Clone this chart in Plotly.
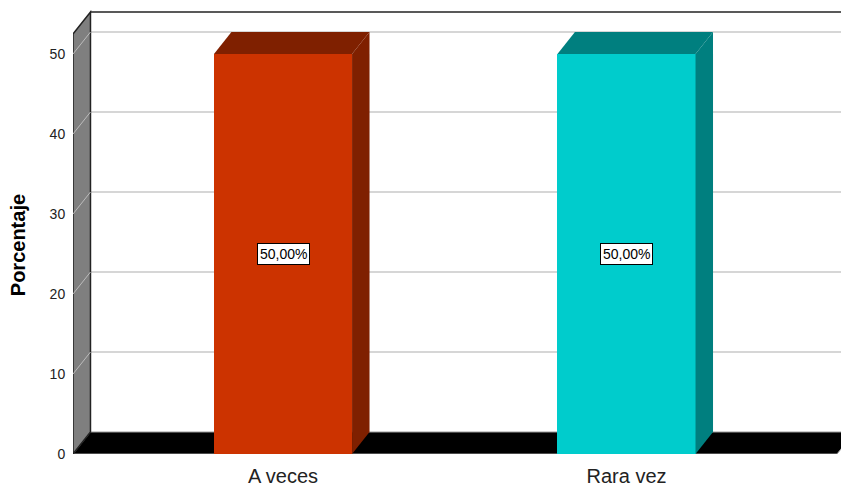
import plotly.graph_objects as go

# Chart data
categorias = ["A veces", "Rara vez"]
porcentajes = [50.0, 50.0]
colores_frente = ["#CC3300", "#00CCCC"]
colores_sombra = ["#7F2000", "#007F7F"]
valores_eje = [0, 10, 20, 30, 40, 50]

# Pseudo-3D geometry (in axis units)
ANCHO = 0.402          # bar width in category units
DX = 0.0509            # depth offset along x
DY = 2.75              # depth offset along y
X_MIN, X_MAX = -0.6114, 1.6245
Y_MAX = 55.5
PARED_ALTO = 52.5      # height of the left wall at the front edge
PISO_DER = 1.6128      # right end of the floor at the front edge

pos = list(range(len(categorias)))
xb = X_MIN + DX

fig = go.Figure()

shapes = []
# Back plane gridlines, plus the diagonal runs across the side wall
for v in valores_eje[1:]:
    shapes.append(dict(type="line", xref="x", yref="y", x0=xb, x1=X_MAX + 0.1,
                       y0=v + DY, y1=v + DY, layer="below",
                       line=dict(color="#C8C8C8", width=1.5)))

# Floor
shapes.append(dict(type="path", xref="x", yref="y", layer="below",
                   path=f"M {X_MIN},0 L {PISO_DER},0 L {PISO_DER + DX},{DY} L {xb},{DY} Z",
                   fillcolor="#000000", line=dict(color="#999999", width=1)))
# Left wall
shapes.append(dict(type="path", xref="x", yref="y", layer="below",
                   path=f"M {X_MIN},0 L {X_MIN},{PARED_ALTO} L {xb},{PARED_ALTO + DY} L {xb},{DY} Z",
                   fillcolor="#7F7F7F", line=dict(color="#222222", width=1.5)))
for v in valores_eje[1:]:
    shapes.append(dict(type="line", xref="x", yref="y", x0=X_MIN, x1=xb,
                       y0=v, y1=v + DY, layer="below",
                       line=dict(color="#BBBBBB", width=1)))
# Back plane top border
shapes.append(dict(type="line", xref="x", yref="y", x0=xb, x1=X_MAX + 0.1,
                   y0=PARED_ALTO + DY, y1=PARED_ALTO + DY, layer="below",
                   line=dict(color="#222222", width=1.5)))

# Front faces of the bars
fig.add_trace(go.Bar(x=pos, y=porcentajes, width=ANCHO,
                     marker=dict(color=colores_frente, line=dict(width=0)),
                     hoverinfo="skip", showlegend=False))

# Side and top faces of each bar
for p, v, c in zip(pos, porcentajes, colores_sombra):
    xl, xr = p - ANCHO / 2, p + ANCHO / 2
    fig.add_trace(go.Scatter(
        x=[xr, xr, xr + DX, xr + DX, xr], y=[0, v, v + DY, DY, 0],
        fill="toself", fillcolor=c, mode="lines", line=dict(width=0, color=c),
        hoverinfo="skip", showlegend=False))
    fig.add_trace(go.Scatter(
        x=[xl, xr, xr + DX, xl + DX, xl], y=[v, v, v + DY, v + DY, v],
        fill="toself", fillcolor=c, mode="lines", line=dict(width=0, color=c),
        hoverinfo="skip", showlegend=False))

# Value labels in the middle of each bar
annotations = []
for p, v in zip(pos, porcentajes):
    annotations.append(dict(x=p, y=v / 2, xref="x", yref="y", showarrow=False,
                            text=f"{v:.2f}".replace(".", ",") + "%",
                            font=dict(family="Liberation Sans, Arial", size=14, color="#000000"),
                            bgcolor="#FFFFFF", bordercolor="#000000", borderwidth=1,
                            borderpad=2))

# Axis title, placed 18 px from the left edge of the figure
annotations.append(dict(x=(18 - 73) / 768.0, y=26.1, xref="paper", yref="y",
                        xanchor="center", yanchor="middle", showarrow=False,
                        text="<b>Porcentaje</b>", textangle=-90,
                        font=dict(family="Liberation Sans, Arial", size=20, color="#000000")))

fig.update_layout(
    width=841, height=487,
    margin=dict(l=73, r=0, t=10, b=33),
    paper_bgcolor="#FFFFFF", plot_bgcolor="#FFFFFF",
    shapes=shapes, annotations=annotations,
    bargap=0,
    xaxis=dict(range=[X_MIN, X_MAX], tickvals=pos, ticktext=categorias,
               showgrid=False, zeroline=False, showline=False,
               ticks="outside", ticklen=4, tickcolor="rgba(0,0,0,0)",
               tickfont=dict(family="Liberation Sans, Arial", size=20, color="#222222")),
    yaxis=dict(range=[0, Y_MAX], tickvals=valores_eje,
               showgrid=False, zeroline=False, showline=False,
               ticks="outside", ticklen=4, tickcolor="rgba(0,0,0,0)",
               tickfont=dict(family="Liberation Sans, Arial", size=14, color="#222222")),
)

fig.write_html("out.html")
